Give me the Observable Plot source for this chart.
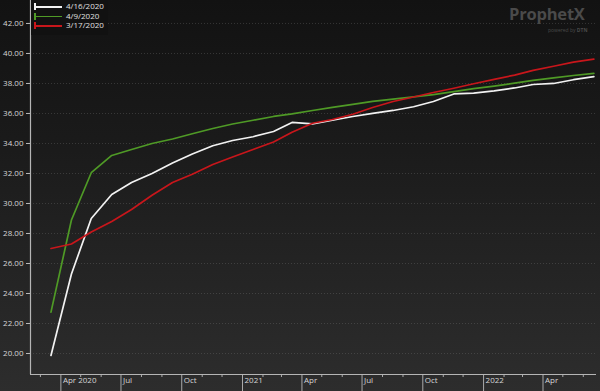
<!DOCTYPE html>
<html><head><meta charset="utf-8">
<script src="https://cdn.jsdelivr.net/npm/d3@7"></script>
<script src="https://cdn.jsdelivr.net/npm/@observablehq/plot@0.6"></script>
<style>
html,body{margin:0;padding:0;background:#1e1e1e;}
#wrap{position:relative;width:600px;height:391px;overflow:hidden;
  background:linear-gradient(to bottom,#121212 0%,#1a1a1a 35%,#2d2d2d 100%);
  font-family:"Open Sans",sans-serif;}
#chart svg{display:block;}
#legend{position:absolute;left:31px;top:0;width:77px;height:35px;background:#111;}
#legend .row{position:absolute;left:3px;height:9px;width:74px;}
#legend .bar{position:absolute;left:0;top:1px;width:1.5px;height:7px;}
#legend .ln{position:absolute;left:0;top:4px;width:28px;height:1.5px;}
#legend .lb{position:absolute;left:32px;top:-2px;font-size:8px;color:#e0e0e0;line-height:12px;white-space:nowrap;}
#wm{position:absolute;left:509px;top:6px;color:#4a4a4a;font-family:"Open Sans",sans-serif;font-weight:700;font-size:16.5px;line-height:16px;letter-spacing:-0.2px;}
#wm2{position:absolute;left:548px;top:27px;color:#4a4a4a;font-size:5px;line-height:6px;font-family:"Open Sans",sans-serif;white-space:nowrap;}
</style></head>
<body>
<div id="wrap">
  <div id="chart"></div>
  <div id="legend"></div>
  <div id="wm">ProphetX</div>
  <div id="wm2">powered by <b>DTN</b></div>
</div>
<script>
// Contract points (one per month)
const dates = ["2020-03-17","2020-04-17","2020-05-17","2020-06-17","2020-07-17","2020-08-17","2020-09-17","2020-10-17","2020-11-17","2020-12-17",
  "2021-01-17","2021-02-17","2021-03-17","2021-04-17","2021-05-17","2021-06-17","2021-07-17","2021-08-17","2021-09-17","2021-10-17","2021-11-17","2021-12-17",
  "2022-01-17","2022-02-17","2022-03-17","2022-04-17","2022-05-17","2022-06-17"];
const seriesNames = ["4/16/2020","4/9/2020","3/17/2020"];
const seriesColors = ["#f2f2f2","#4f9a26","#c8161b"];
const s0416 = [19.87,25.3,29.0,30.6,31.4,32.0,32.7,33.3,33.85,34.2,34.45,34.8,35.4,35.3,35.55,35.8,36.0,36.2,36.45,36.8,37.3,37.35,37.5,37.7,37.93,38.0,38.25,38.45];
const s0409 = [22.76,28.9,32.05,33.2,33.6,34.0,34.3,34.65,35.0,35.3,35.55,35.8,35.97,36.2,36.4,36.6,36.8,36.95,37.1,37.25,37.45,37.65,37.82,38.02,38.2,38.37,38.53,38.67];
const s0317 = [27.0,27.3,28.1,28.8,29.6,30.55,31.4,31.95,32.6,33.1,33.6,34.1,34.75,35.35,35.6,35.95,36.4,36.8,37.1,37.4,37.68,37.98,38.27,38.56,38.87,39.15,39.42,39.62];
const yTicks = [20,22,24,26,28,30,32,34,36,38,40,42];
const quarterTicks = ["2020-04-01","2020-07-01","2020-10-01","2021-01-01","2021-04-01","2021-07-01","2021-10-01","2022-01-01","2022-04-01"];
const quarterLabels = ["Apr 2020","Jul","Oct","2021","Apr","Jul","Oct","2022","Apr"];
const monthTicks = ["2020-03-01","2020-05-01","2020-06-01","2020-08-01","2020-09-01","2020-11-01","2020-12-01","2021-02-01","2021-03-01","2021-05-01","2021-06-01",
  "2021-08-01","2021-09-01","2021-11-01","2021-12-01","2022-02-01","2022-03-01","2022-05-01","2022-06-01"];

const allSeries = [s0416, s0409, s0317];
const rows = [];
allSeries.forEach((s, k) => s.forEach((v, i) => rows.push({date: new Date(dates[i]), value: v, series: seriesNames[k]})));

const xDomain = [new Date("2020-02-15"), new Date("2022-06-21")];
const yDomain = [18.6, 43.53];
const qDates = quarterTicks.map(d => new Date(d));
const qMap = new Map(qDates.map((d, i) => [+d, quarterLabels[i]]));
const mDates = monthTicks.map(d => new Date(d));

const chart = Plot.plot({
  width: 600, height: 391,
  marginLeft: 30, marginRight: 4, marginTop: 0, marginBottom: 17,
  style: {background: "transparent", color: "#d6d6d6", fontFamily: "'Open Sans', sans-serif", fontSize: "8px"},
  x: {type: "utc", domain: xDomain, label: null},
  y: {domain: yDomain, label: null},
  color: {domain: seriesNames, range: seriesColors},
  marks: [
    Plot.gridY(yTicks, {stroke: "#777", strokeOpacity: 0.35, strokeDasharray: "1,2"}),
    Plot.axisY({ticks: yTicks, tickFormat: d => d.toFixed(2), tickSize: 4, tickPadding: 3, stroke: "#bbb", fill: "#d6d6d6", fontSize: 8, label: null}),
    Plot.axisX({ticks: qDates, tickSize: 17, tickFormat: () => "", stroke: "#aaa", label: null}),
    Plot.axisX({ticks: mDates, tickSize: 3, tickFormat: () => "", stroke: "#aaa", label: null}),
    Plot.axisX({ticks: qDates, tickSize: 0, tickPadding: 3, tickFormat: d => qMap.get(+d), textAnchor: "start", dx: 2, fill: "#d6d6d6", fontSize: 8, label: null}),
    Plot.ruleX([xDomain[0]], {stroke: "#b5b5b5", strokeWidth: 1.2}),
    Plot.ruleY([yDomain[0]], {stroke: "#b5b5b5", strokeWidth: 1.2}),
    Plot.line(rows, {x: "date", y: "value", z: "series", stroke: "series", strokeWidth: 1.7})
  ]
});
document.getElementById("chart").appendChild(chart);

const legend = document.getElementById("legend");
seriesNames.forEach((n, i) => {
  const r = document.createElement("div");
  r.className = "row";
  r.style.top = (2 + i * 9.7) + "px";
  r.innerHTML = `<div class="bar" style="background:${seriesColors[i]}"></div><div class="ln" style="background:${seriesColors[i]}"></div><div class="lb">${n}</div>`;
  legend.appendChild(r);
});
</script>
</body></html>
